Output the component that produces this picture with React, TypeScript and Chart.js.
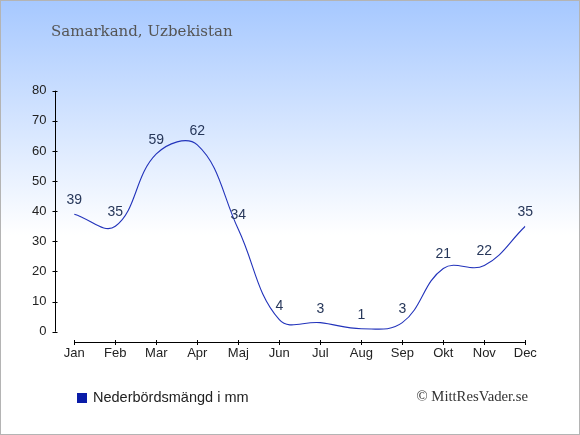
import { useEffect, useRef } from "react";
import { Chart, registerables } from "chart.js";

Chart.register(...registerables);

const months = ["Jan", "Feb", "Mar", "Apr", "Maj", "Jun", "Jul", "Aug", "Sep", "Okt", "Nov", "Dec"];
const precipitation = [39, 35, 59, 62, 34, 4, 3, 1, 3, 21, 22, 35];
const yTicks = [0, 10, 20, 30, 40, 50, 60, 70, 80];
const titleText = "Samarkand, Uzbekistan";
const seriesLabel = "Nederbördsmängd i mm";
const creditText = "© MittResVader.se";

const LINE_COLOR = "#2233bb";
const LEGEND_COLOR = "#0a1ca8";
const SANS = '"Liberation Sans", Arial, sans-serif';
const SERIF = '"DejaVu Serif", Georgia, serif';
const SERIF2 = '"Liberation Serif", "Times New Roman", serif';

const decor = {
  id: "decor",
  beforeDraw(chart: any) {
    const { ctx, width, height } = chart;
    ctx.save();
    const g = ctx.createLinearGradient(0, 0, 0, 235);
    g.addColorStop(0, "#a6c8ff");
    g.addColorStop(1, "#ffffff");
    ctx.fillStyle = g;
    ctx.fillRect(0, 0, width, height);
    ctx.strokeStyle = "#b4b4b4";
    ctx.lineWidth = 1;
    ctx.strokeRect(0.5, 0.5, width - 1, height - 1);
    ctx.restore();
  },
  afterDraw(chart: any) {
    const { ctx, chartArea } = chart;
    const xs = chart.scales.x;
    const ys = chart.scales.y;
    ctx.save();
    // axes
    ctx.strokeStyle = "#000";
    ctx.lineWidth = 1;
    const ax = Math.round(chartArea.left) + 0.5;
    const ay = Math.round(chartArea.bottom) + 0.5;
    ctx.beginPath();
    ctx.moveTo(ax, ys.getPixelForValue(yTicks[yTicks.length - 1]));
    ctx.lineTo(ax, ys.getPixelForValue(yTicks[0]));
    for (const v of yTicks) {
      const py = Math.round(ys.getPixelForValue(v)) + 0.5;
      ctx.moveTo(ax - 3, py);
      ctx.lineTo(ax + 2, py);
    }
    const x0 = xs.getPixelForValue(0);
    const x1 = xs.getPixelForValue(months.length - 1);
    ctx.moveTo(x0, ay);
    ctx.lineTo(x1, ay);
    months.forEach((_, i) => {
      const px = Math.round(xs.getPixelForValue(i)) + 0.5;
      ctx.moveTo(px, ay - 2.5);
      ctx.lineTo(px, ay + 2.5);
    });
    ctx.stroke();

    // data labels
    const meta = chart.getDatasetMeta(0);
    ctx.fillStyle = "#27375a";
    ctx.font = `14px ${SANS}`;
    ctx.textAlign = "center";
    ctx.textBaseline = "middle";
    meta.data.forEach((pt: any, i: number) => {
      ctx.fillText(String(precipitation[i]), pt.x, pt.y - 14);
    });

    // title
    ctx.fillStyle = "#555555";
    ctx.font = `15px ${SERIF}`;
    ctx.textAlign = "left";
    ctx.fillText(titleText, 51, 32);

    // legend
    const ds = chart.data.datasets[0];
    ctx.fillStyle = LEGEND_COLOR;
    ctx.fillRect(77, 393, 10, 10);
    ctx.fillStyle = "#222222";
    ctx.font = `14.5px ${SANS}`;
    ctx.fillText(ds.label, 93, 398);

    // credit
    ctx.fillStyle = "#333333";
    ctx.font = `14.7px ${SERIF2}`;
    ctx.textAlign = "right";
    ctx.fillText(creditText, 528, 397);
    ctx.restore();
  },
};

export default function App() {
  const ref = useRef<HTMLCanvasElement>(null);

  useEffect(() => {
    document.body.style.margin = "0";
    if (!ref.current) return;
    const chart = new Chart(ref.current, {
      type: "line",
      data: {
        datasets: [
          {
            label: seriesLabel,
            data: precipitation.map((v, i) => ({ x: i, y: v })),
            borderColor: LINE_COLOR,
            borderWidth: 1.1,
            pointRadius: 0,
            tension: 0.4,
            fill: false,
          },
        ],
      },
      options: {
        responsive: false,
        animation: false,
        devicePixelRatio: 1,
        layout: { padding: { left: 0, top: 90.7, right: 54.7, bottom: 435 - 341.7 - 30 } },
        plugins: {
          legend: { display: false },
          tooltip: { enabled: false },
          title: { display: false },
        },
        scales: {
          x: {
            type: "linear",
            min: -0.483,
            max: months.length - 1,
            afterBuildTicks: (s: any) => {
              s.ticks = months.map((_, i) => ({ value: i }));
            },
            ticks: {
              autoSkip: false,
              maxRotation: 0,
              padding: 4,
              color: "#222222",
              font: { family: SANS, size: 13 },
              callback: (v: any) => months[v] ?? "",
            },
            grid: { display: false, drawTicks: false },
            border: { display: false },
            afterFit: (s: any) => {
              s.height = 30;
            },
          },
          y: {
            type: "linear",
            min: -3.32,
            max: yTicks[yTicks.length - 1],
            afterBuildTicks: (s: any) => {
              s.ticks = yTicks.map((v) => ({ value: v }));
            },
            ticks: {
              padding: 8,
              color: "#222222",
              font: { family: SANS, size: 13 },
            },
            grid: { display: false, drawTicks: false },
            border: { display: false },
            afterFit: (s: any) => {
              s.width = 54.5;
            },
          },
        },
      },
      plugins: [decor],
    });
    return () => chart.destroy();
  }, []);

  return <canvas ref={ref} width={580} height={435} style={{ display: "block" }} />;
}
